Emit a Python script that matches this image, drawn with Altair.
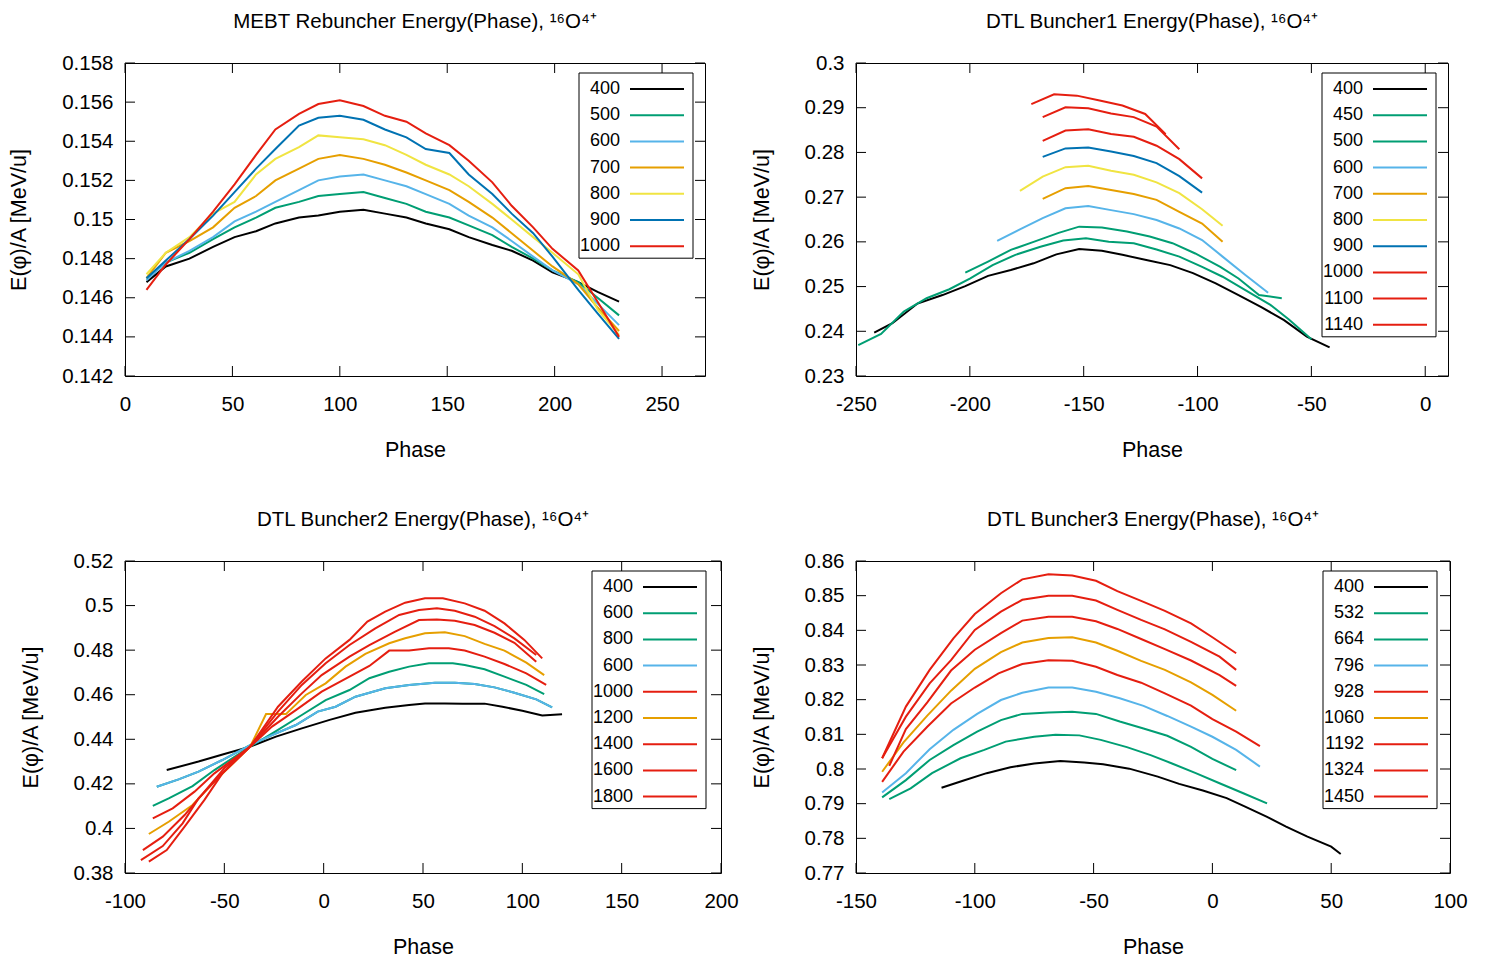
import altair as alt
import pandas as pd

FONT = "Liberation Sans"
PALETTE = {"black": "#000000", "green": "#009e73", "cyan": "#56b4e9", "orange": "#e69f00",
           "yellow": "#f0e442", "blue": "#0072b2", "red": "#e51e10"}

# ---------------- Panel 1: MEBT Rebuncher ----------------
MEBT_PHASE = [10, 19, 30, 41, 51, 61, 70, 81, 90, 100, 111, 121, 131, 140, 151, 160, 171, 180, 190, 199, 211, 220, 230]
MEBT_400 = [0.1468, 0.1476, 0.1480, 0.1486, 0.1491, 0.1494, 0.1498, 0.1501, 0.1502, 0.1504, 0.1505, 0.1503, 0.1501, 0.1498, 0.1495, 0.1491, 0.1487, 0.1484, 0.1479, 0.1473, 0.1468, 0.1463, 0.1458]
MEBT_500 = [0.1470, 0.1478, 0.1483, 0.1490, 0.1496, 0.1501, 0.1506, 0.1509, 0.1512, 0.1513, 0.1514, 0.1511, 0.1508, 0.1504, 0.1501, 0.1497, 0.1492, 0.1486, 0.1480, 0.1474, 0.1468, 0.1460, 0.1451]
MEBT_600 = [0.1469, 0.1478, 0.1484, 0.1491, 0.1499, 0.1504, 0.1509, 0.1515, 0.1520, 0.1522, 0.1523, 0.1520, 0.1517, 0.1513, 0.1508, 0.1502, 0.1496, 0.1489, 0.1481, 0.1474, 0.1467, 0.1457, 0.1446]
MEBT_700 = [0.1470, 0.1483, 0.1489, 0.1496, 0.1506, 0.1512, 0.1520, 0.1526, 0.1531, 0.1533, 0.1531, 0.1528, 0.1524, 0.1520, 0.1515, 0.1509, 0.1501, 0.1493, 0.1484, 0.1476, 0.1467, 0.1455, 0.1443]
MEBT_800 = [0.1472, 0.1483, 0.1491, 0.1503, 0.1509, 0.1523, 0.1531, 0.1537, 0.1543, 0.1542, 0.1541, 0.1538, 0.1533, 0.1528, 0.1523, 0.1517, 0.1508, 0.1500, 0.1491, 0.1483, 0.1472, 0.1454, 0.1441]
MEBT_900 = [0.1470, 0.1479, 0.1490, 0.1502, 0.1514, 0.1526, 0.1536, 0.1548, 0.1552, 0.1553, 0.1551, 0.1546, 0.1542, 0.1536, 0.1534, 0.1523, 0.1513, 0.1503, 0.1493, 0.1481, 0.1464, 0.1452, 0.1439]
MEBT_1000 = [0.1464, 0.1477, 0.1490, 0.1504, 0.1518, 0.1533, 0.1546, 0.1554, 0.1559, 0.1561, 0.1558, 0.1553, 0.1550, 0.1544, 0.1538, 0.1530, 0.1519, 0.1507, 0.1496, 0.1485, 0.1474, 0.1458, 0.1440]

# ---------------- Panel 2: DTL Buncher1 ----------------
B1_400_PH = [-242, -234, -223, -212, -202, -192, -182, -172, -162, -152, -142, -133, -122, -112, -102, -92, -82, -72, -62, -52, -42]
B1_400_E = [0.2397, 0.2418, 0.2462, 0.2481, 0.2501, 0.2524, 0.2537, 0.2552, 0.2572, 0.2584, 0.2580, 0.2571, 0.2559, 0.2548, 0.2530, 0.2507, 0.2481, 0.2454, 0.2425, 0.2388, 0.2364]
B1_450_PH = [-249, -239, -229, -219, -209, -200, -190, -180, -169, -159, -149, -139, -128, -118, -108, -98, -89, -79, -68, -60, -50]
B1_450_E = [0.2369, 0.2394, 0.2444, 0.2474, 0.2494, 0.2518, 0.2548, 0.2571, 0.2589, 0.2603, 0.2608, 0.2600, 0.2597, 0.2583, 0.2567, 0.2544, 0.2522, 0.2492, 0.2459, 0.2427, 0.2382]
B1_500_PH = [-202, -192, -182, -172, -161, -152, -142, -131, -121, -111, -101, -90, -82, -73, -63]
B1_500_E = [0.2531, 0.2556, 0.2582, 0.2600, 0.2620, 0.2634, 0.2632, 0.2623, 0.2612, 0.2597, 0.2574, 0.2544, 0.2518, 0.2481, 0.2474]
B1_600_PH = [-188, -178, -168, -158, -148, -138, -128, -118, -108, -98, -89, -79, -69]
B1_600_E = [0.2602, 0.2628, 0.2653, 0.2675, 0.2680, 0.2671, 0.2662, 0.2649, 0.2630, 0.2604, 0.2567, 0.2526, 0.2486]
B1_700_PH = [-168, -158, -148, -138, -128, -118, -108, -98, -89]
B1_700_E = [0.2696, 0.2720, 0.2725, 0.2716, 0.2707, 0.2694, 0.2667, 0.2641, 0.2600]
B1_800_PH = [-178, -168, -158, -148, -138, -128, -118, -108, -98, -89]
B1_800_E = [0.2714, 0.2746, 0.2767, 0.2770, 0.2759, 0.2750, 0.2733, 0.2709, 0.2673, 0.2636]
B1_900_PH = [-168, -158, -148, -138, -128, -118, -108, -98]
B1_900_E = [0.2790, 0.2809, 0.2811, 0.2802, 0.2792, 0.2776, 0.2747, 0.2710]
B1_1000_PH = [-168, -158, -148, -138, -128, -118, -108, -98]
B1_1000_E = [0.2826, 0.2849, 0.2852, 0.2841, 0.2835, 0.2815, 0.2785, 0.2742]
B1_1100_PH = [-168, -158, -148, -138, -128, -118, -108]
B1_1100_E = [0.2879, 0.2901, 0.2899, 0.2887, 0.2879, 0.2858, 0.2807]
B1_1140_PH = [-173, -163, -153, -143, -133, -123, -114]
B1_1140_E = [0.2908, 0.2930, 0.2927, 0.2916, 0.2905, 0.2886, 0.2841]

# ---------------- Panel 3: DTL Buncher2 ----------------
B2_400_PH = [-79, -63, -50, -37, -24, -11, 3, 16, 31, 43, 51, 61, 70, 81, 90, 100, 110, 120]
B2_400_E = [0.4262, 0.4300, 0.4334, 0.4367, 0.4412, 0.4449, 0.4487, 0.4519, 0.4542, 0.4554, 0.4561, 0.4561, 0.4560, 0.4560, 0.4546, 0.4528, 0.4507, 0.4512]
B2_600_PH = [-84, -73, -63, -51, -37, -26, -14, -3, 6, 16, 31, 43, 56, 66, 76, 86, 96, 107, 115]
B2_600_E = [0.4187, 0.4220, 0.4255, 0.4307, 0.4374, 0.4419, 0.4464, 0.4524, 0.4546, 0.4591, 0.4629, 0.4644, 0.4654, 0.4654, 0.4648, 0.4633, 0.4609, 0.4579, 0.4543]
B2_800_PH = [-86, -78, -66, -55, -37, -23, -11, 1, 13, 23, 33, 43, 53, 65, 71, 81, 91, 102, 111]
B2_800_E = [0.4101, 0.4135, 0.4190, 0.4262, 0.4367, 0.4442, 0.4509, 0.4576, 0.4621, 0.4674, 0.4703, 0.4726, 0.4741, 0.4741, 0.4733, 0.4714, 0.4681, 0.4644, 0.4603]
B2_1000_PH = [-86, -76, -65, -55, -37, -26, -14, -1, 13, 23, 33, 43, 53, 63, 71, 81, 91, 102, 112]
B2_1000_E = [0.4045, 0.4090, 0.4165, 0.4247, 0.4367, 0.4457, 0.4531, 0.4614, 0.4681, 0.4729, 0.4798, 0.4798, 0.4808, 0.4808, 0.4798, 0.4771, 0.4738, 0.4696, 0.4644]
B2_1200_PH = [-88, -78, -66, -55, -37, -29, -19, -9, 1, 11, 21, 33, 41, 51, 61, 71, 81, 91, 102, 111]
B2_1200_E = [0.3975, 0.4030, 0.4105, 0.4210, 0.4367, 0.4513, 0.4513, 0.4599, 0.4651, 0.4726, 0.4783, 0.4831, 0.4853, 0.4876, 0.4880, 0.4863, 0.4828, 0.4798, 0.4744, 0.4688]
B2_1400_PH = [-91, -81, -70, -60, -50, -37, -23, -11, -1, 13, 23, 36, 48, 57, 66, 76, 86, 96, 107]
B2_1400_E = [0.3903, 0.3963, 0.4060, 0.4165, 0.4270, 0.4367, 0.4501, 0.4606, 0.4688, 0.4771, 0.4823, 0.4883, 0.4935, 0.4938, 0.4932, 0.4913, 0.4878, 0.4833, 0.4748]
B2_1600_PH = [-92, -81, -71, -63, -51, -37, -23, -11, 1, 13, 26, 38, 48, 57, 66, 76, 86, 96, 107]
B2_1600_E = [0.3858, 0.3921, 0.4023, 0.4135, 0.4247, 0.4367, 0.4524, 0.4644, 0.4741, 0.4823, 0.4898, 0.4958, 0.4980, 0.4988, 0.4977, 0.4950, 0.4908, 0.4853, 0.4778]
B2_1800_PH = [-88, -79, -70, -60, -51, -37, -23, -11, 1, 13, 22, 31, 41, 51, 60, 71, 81, 91, 101, 110]
B2_1800_E = [0.3851, 0.3903, 0.4008, 0.4128, 0.4247, 0.4367, 0.4546, 0.4659, 0.4763, 0.4846, 0.4928, 0.4973, 0.5013, 0.5033, 0.5033, 0.5010, 0.4977, 0.4920, 0.4846, 0.4763]

# ---------------- Panel 4: DTL Buncher3 ----------------
B3_400_PH = [-114, -105, -95, -85, -75, -64, -54, -46, -35, -23, -14, -4, 6, 14, 23, 31, 40, 50, 54]
B3_400_E = [0.7946, 0.7966, 0.7988, 0.8005, 0.8016, 0.8023, 0.8019, 0.8014, 0.8001, 0.7978, 0.7957, 0.7938, 0.7916, 0.7891, 0.7862, 0.7834, 0.7805, 0.7776, 0.7755]
B3_532_PH = [-136, -127, -118, -106, -96, -87, -75, -66, -56, -47, -36, -26, -17, -7, 3, 13, 23]
B3_532_E = [0.7913, 0.7944, 0.7988, 0.8031, 0.8055, 0.8079, 0.8093, 0.8099, 0.8097, 0.8084, 0.8063, 0.8040, 0.8016, 0.7988, 0.7959, 0.7930, 0.7901]
B3_664_PH = [-139, -129, -119, -109, -99, -89, -80, -69, -59, -49, -39, -29, -19, -9, 0, 10]
B3_664_E = [0.7918, 0.7968, 0.8026, 0.8069, 0.8108, 0.8141, 0.8159, 0.8163, 0.8165, 0.8159, 0.8137, 0.8117, 0.8096, 0.8064, 0.8029, 0.7997]
B3_796_PH = [-139, -129, -119, -109, -99, -89, -80, -69, -59, -49, -39, -29, -19, -9, 0, 10, 20]
B3_796_E = [0.7932, 0.7988, 0.8057, 0.8113, 0.8159, 0.8199, 0.8220, 0.8235, 0.8235, 0.8223, 0.8204, 0.8182, 0.8153, 0.8122, 0.8093, 0.8055, 0.8007]
B3_928_PH = [-139, -130, -120, -110, -100, -90, -80, -69, -59, -49, -40, -30, -20, -9, 0, 10, 20]
B3_928_E = [0.7963, 0.8050, 0.8122, 0.8189, 0.8235, 0.8276, 0.8303, 0.8314, 0.8312, 0.8295, 0.8271, 0.8249, 0.8218, 0.8183, 0.8144, 0.8108, 0.8066]
B3_1060_PH = [-139, -130, -120, -110, -100, -89, -80, -69, -59, -49, -40, -30, -20, -9, 0, 10]
B3_1060_E = [0.7992, 0.8077, 0.8154, 0.8226, 0.8289, 0.8337, 0.8365, 0.8378, 0.8380, 0.8365, 0.8341, 0.8312, 0.8286, 0.8250, 0.8214, 0.8168]
B3_1192_PH = [-136, -129, -120, -110, -100, -89, -80, -69, -59, -49, -40, -30, -20, -9, 3, 10]
B3_1192_E = [0.8009, 0.8115, 0.8192, 0.8284, 0.8344, 0.8392, 0.8428, 0.8439, 0.8439, 0.8426, 0.8404, 0.8375, 0.8346, 0.8313, 0.8271, 0.8240]
B3_1324_PH = [-139, -129, -119, -110, -100, -89, -80, -69, -59, -49, -40, -30, -20, -9, 3, 10]
B3_1324_E = [0.8031, 0.8151, 0.8247, 0.8314, 0.8401, 0.8454, 0.8488, 0.8500, 0.8500, 0.8486, 0.8459, 0.8430, 0.8403, 0.8367, 0.8324, 0.8286]
B3_1450_PH = [-139, -129, -119, -109, -100, -89, -80, -69, -59, -49, -40, -30, -20, -9, 0, 10]
B3_1450_E = [0.8031, 0.8180, 0.8286, 0.8377, 0.8447, 0.8507, 0.8547, 0.8562, 0.8558, 0.8543, 0.8513, 0.8485, 0.8456, 0.8420, 0.8380, 0.8334]

# tick values
P1_XTICKS = [0, 50, 100, 150, 200, 250]
P1_YTICKS = [0.142, 0.144, 0.146, 0.148, 0.15, 0.152, 0.154, 0.156, 0.158]
P2_XTICKS = [-250, -200, -150, -100, -50, 0]
P2_YTICKS = [0.23, 0.24, 0.25, 0.26, 0.27, 0.28, 0.29, 0.3]
P3_XTICKS = [-100, -50, 0, 50, 100, 150, 200]
P3_YTICKS = [0.38, 0.4, 0.42, 0.44, 0.46, 0.48, 0.5, 0.52]
P4_XTICKS = [-150, -100, -50, 0, 50, 100]
P4_YTICKS = [0.77, 0.78, 0.79, 0.8, 0.81, 0.82, 0.83, 0.84, 0.85, 0.86]

TICK_LEN = 10


def make_panel(key, title, series, W, H, xdom, xticks, ydom, yticks, box_right_gap=13):
    rows = []
    sids, colors, labels = [], [], []
    for i, (lab, col, ph, ev) in enumerate(series):
        sid = f"{key}_{i:02d}"
        sids.append(sid)
        colors.append(PALETTE[col])
        labels.append(lab)
        for p, e in zip(ph, ev):
            rows.append({"sid": sid, "phase": p, "E": e})
    df = pd.DataFrame(rows)

    xsc = alt.Scale(domain=xdom, nice=False, zero=False)
    ysc = alt.Scale(domain=ydom, nice=False, zero=False)
    csc = alt.Scale(domain=sids, range=colors)
    xax = alt.Axis(values=xticks, title="Phase", tickSize=0, ticks=False, domain=False, grid=False,
                   labelPadding=18, titlePadding=25, labelFlush=False,
                   labelExpr="toString(datum.value)")
    yax = alt.Axis(values=yticks, title="E(φ)/A [MeV/u]", tickSize=0, ticks=False, domain=False, grid=False,
                   labelPadding=12, titlePadding=31, labelFlush=False,
                   labelExpr="toString(datum.value)")

    X = alt.X("phase:Q", scale=xsc, axis=xax)
    Y = alt.Y("E:Q", scale=ysc, axis=yax)

    lines = alt.Chart(df).mark_line(strokeWidth=2).encode(
        x=X, y=Y, color=alt.Color("sid:N", scale=csc, legend=None)
    )

    xt = pd.DataFrame({"phase": xticks})
    yt = pd.DataFrame({"E": yticks})
    tb = alt.Chart(xt).mark_rule(color="black", strokeWidth=1).encode(
        x=X, y=alt.value(H), y2=alt.value(H - TICK_LEN))
    tt = alt.Chart(xt).mark_rule(color="black", strokeWidth=1).encode(
        x=X, y=alt.value(0), y2=alt.value(TICK_LEN))
    tl = alt.Chart(yt).mark_rule(color="black", strokeWidth=1).encode(
        y=Y, x=alt.value(0), x2=alt.value(TICK_LEN))
    tr = alt.Chart(yt).mark_rule(color="black", strokeWidth=1).encode(
        y=Y, x=alt.value(W), x2=alt.value(W - TICK_LEN))

    main = alt.layer(tb, tt, tl, tr, lines)

    n = len(series)
    box_w = 114
    box_left = W - box_right_gap - box_w
    top = 10
    first = top + 16
    step = 26.2
    last = first + step * (n - 1)
    legsc = alt.Scale(domain=[0, n - 1], range=[first, last], nice=False, zero=False)
    leg = pd.DataFrame({"row": list(range(n)), "label": labels, "sid": sids})
    box = alt.Chart(pd.DataFrame({"row": [0]})).mark_rect(
        fill="white", stroke="black", strokeWidth=1).encode(
        x=alt.value(box_left), x2=alt.value(box_left + box_w),
        y=alt.value(top), y2=alt.value(last + 12))
    ltxt = alt.Chart(leg).mark_text(align="right", baseline="middle", font=FONT, fontSize=18,
                                    color="black").encode(
        x=alt.value(box_left + 41), y=alt.Y("row:Q", scale=legsc, axis=None), text="label:N")
    lrule = alt.Chart(leg).mark_rule(strokeWidth=2).encode(
        x=alt.value(box_left + 51), x2=alt.value(box_left + 105),
        y=alt.Y("row:Q", scale=legsc, axis=None),
        color=alt.Color("sid:N", scale=csc, legend=None))
    legend = alt.layer(box, ltxt, lrule)

    return alt.layer(main, legend).resolve_scale(y="independent").properties(
        width=W, height=H,
        title=alt.TitleParams(title, font=FONT, fontSize=20.5, fontWeight="normal",
                              color="black", offset=21, anchor="middle"))


sup = "¹⁶O⁴⁺"
p1 = make_panel("a", f"MEBT Rebuncher Energy(Phase), {sup}", [
    ("400", "black", MEBT_PHASE, MEBT_400),
    ("500", "green", MEBT_PHASE, MEBT_500),
    ("600", "cyan", MEBT_PHASE, MEBT_600),
    ("700", "orange", MEBT_PHASE, MEBT_700),
    ("800", "yellow", MEBT_PHASE, MEBT_800),
    ("900", "blue", MEBT_PHASE, MEBT_900),
    ("1000", "red", MEBT_PHASE, MEBT_1000),
], 580, 313, [0, 270], P1_XTICKS, [0.142, 0.158], P1_YTICKS, box_right_gap=12)

p2 = make_panel("b", f"DTL Buncher1 Energy(Phase), {sup}", [
    ("400", "black", B1_400_PH, B1_400_E),
    ("450", "green", B1_450_PH, B1_450_E),
    ("500", "green", B1_500_PH, B1_500_E),
    ("600", "cyan", B1_600_PH, B1_600_E),
    ("700", "orange", B1_700_PH, B1_700_E),
    ("800", "yellow", B1_800_PH, B1_800_E),
    ("900", "blue", B1_900_PH, B1_900_E),
    ("1000", "red", B1_1000_PH, B1_1000_E),
    ("1100", "red", B1_1100_PH, B1_1100_E),
    ("1140", "red", B1_1140_PH, B1_1140_E),
], 592, 313, [-250, 10], P2_XTICKS, [0.23, 0.3], P2_YTICKS, box_right_gap=12)

p3 = make_panel("c", f"DTL Buncher2 Energy(Phase), {sup}", [
    ("400", "black", B2_400_PH, B2_400_E),
    ("600", "green", B2_600_PH, B2_600_E),
    ("800", "green", B2_800_PH, B2_800_E),
    ("600", "cyan", B2_600_PH, B2_600_E),
    ("1000", "red", B2_1000_PH, B2_1000_E),
    ("1200", "orange", B2_1200_PH, B2_1200_E),
    ("1400", "red", B2_1400_PH, B2_1400_E),
    ("1600", "red", B2_1600_PH, B2_1600_E),
    ("1800", "red", B2_1800_PH, B2_1800_E),
], 596, 312, [-100, 200], P3_XTICKS, [0.38, 0.52], P3_YTICKS, box_right_gap=15)

p4 = make_panel("d", f"DTL Buncher3 Energy(Phase), {sup}", [
    ("400", "black", B3_400_PH, B3_400_E),
    ("532", "green", B3_532_PH, B3_532_E),
    ("664", "green", B3_664_PH, B3_664_E),
    ("796", "cyan", B3_796_PH, B3_796_E),
    ("928", "red", B3_928_PH, B3_928_E),
    ("1060", "orange", B3_1060_PH, B3_1060_E),
    ("1192", "red", B3_1192_PH, B3_1192_E),
    ("1324", "red", B3_1324_PH, B3_1324_E),
    ("1450", "red", B3_1450_PH, B3_1450_E),
], 594, 312, [-150, 100], P4_XTICKS, [0.77, 0.86], P4_YTICKS, box_right_gap=13)

row1 = alt.hconcat(p1, p2, spacing=44).resolve_scale(color="independent")
row2 = alt.hconcat(p3, p4, spacing=11).resolve_scale(color="independent")

chart = alt.vconcat(row1, row2, spacing=47).resolve_scale(
    color="independent"
).properties(
    padding={"left": 0, "top": 3, "right": 5, "bottom": 0}, background="white"
).configure_view(
    stroke="black", strokeWidth=1
).configure_axis(
    labelFont=FONT, titleFont=FONT, labelFontSize=20.5, titleFontSize=21.5,
    titleFontWeight="normal", labelColor="black", titleColor="black"
)

chart.save("out.html", embed_options={"renderer": "svg", "actions": False})
